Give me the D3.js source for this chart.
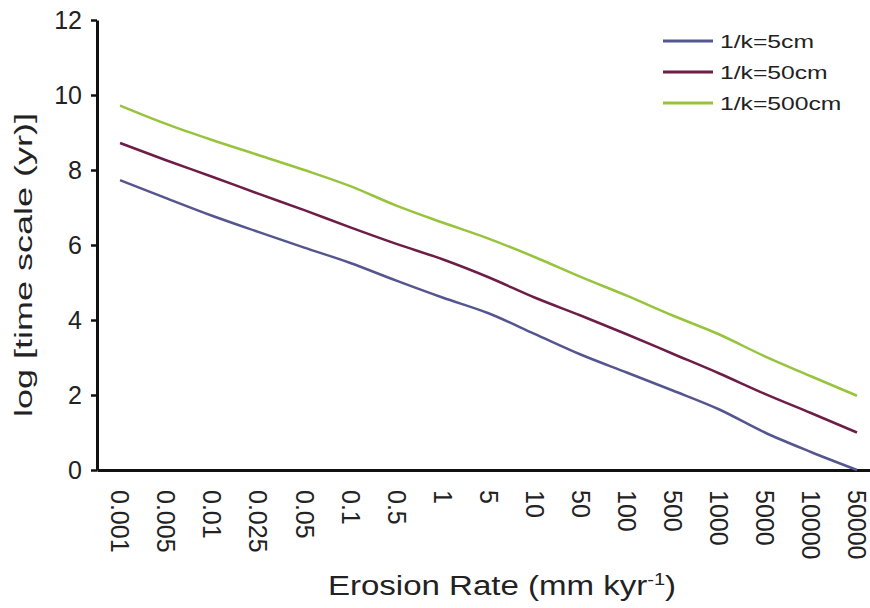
<!DOCTYPE html>
<html>
<head>
<meta charset="utf-8">
<script src="https://cdn.jsdelivr.net/npm/d3@7"></script>
<style>
  body { margin: 0; background: #fff; }
  svg { display: block; font-family: "Liberation Sans", Arial, Helvetica, sans-serif; }
</style>
</head>
<body>
<svg id="chart" width="870" height="608"></svg>
<script>
// erosion rate categories (mm kyr-1)
const rates = ['0.001', '0.005', '0.01', '0.025', '0.05', '0.1', '0.5', '1', '5', '10',
               '50', '100', '500', '1000', '5000', '10000', '50000']
const yTicks = [0, 2, 4, 6, 8, 10, 12]

// log time scale for each 1/k
const k5 = [7.73, 7.25, 6.78, 6.35, 5.93, 5.52, 5.05, 4.6, 4.18, 3.63, 3.08, 2.6, 2.12, 1.62, 1.0, 0.48, 0.0]
const k50 = [8.72, 8.26, 7.82, 7.37, 6.93, 6.47, 6.03, 5.62, 5.14, 4.6, 4.12, 3.62, 3.1, 2.58, 2.03, 1.52, 1.0]
const k500 = [9.72, 9.23, 8.8, 8.4, 8.0, 7.57, 7.05, 6.6, 6.17, 5.68, 5.15, 4.65, 4.12, 3.62, 3.03, 2.5, 1.98]

const seriesNames = ['1/k=5cm', '1/k=50cm', '1/k=500cm']
const seriesValues = [k5, k50, k500]
const colors = ['#55568f', '#6d1d47', '#97c43c']

let svg = d3.select('#chart'),
    plotLeft = 97,
    plotTop = 20,
    plotBottom = 470,
    plotRight = 880

let x = d3.scaleBand().domain(rates).range([plotLeft, plotRight]).padding(0)
let y = d3.scaleLinear().domain([0, 12]).range([plotBottom, plotTop])
let xc = function (c) { return x(c) + x.bandwidth() / 2 }

// x axis
let xAxis = svg.append('g')
    .attr('transform', 'translate(0,' + plotBottom + ')')
    .call(d3.axisBottom(x).tickSize(0))
xAxis.select('.domain').attr('stroke', '#111').attr('stroke-width', 3)
xAxis.selectAll('.tick text')
    .attr('x', 0)
    .attr('y', 0)
    .attr('dy', '0.35em')
    .attr('transform', 'translate(0,20) rotate(90)')
    .style('text-anchor', 'start')
    .style('font-size', '25px')
    .style('font-family', '"Liberation Sans", Arial, sans-serif')
    .attr('fill', '#222')

// y axis
let yAxis = svg.append('g')
    .attr('transform', 'translate(' + plotLeft + ',0)')
    .call(d3.axisLeft(y).tickValues(yTicks).tickSize(6).tickSizeOuter(0).tickPadding(9))
yAxis.select('.domain').attr('stroke', '#111').attr('stroke-width', 3)
yAxis.selectAll('.tick line').attr('stroke', '#111').attr('stroke-width', 2.5)
yAxis.selectAll('.tick text')
    .style('font-size', '25px')
    .style('font-family', '"Liberation Sans", Arial, sans-serif')
    .attr('fill', '#222')

// series lines
let line = d3.line()
    .x(function (d, i) { return xc(rates[i]) })
    .y(function (d) { return y(d) })
    .curve(d3.curveMonotoneX)

svg.selectAll('.series')
    .data(seriesValues)
    .enter().append('path')
    .attr('class', 'series')
    .attr('d', line)
    .attr('fill', 'none')
    .attr('stroke', function (d, i) { return colors[i] })
    .attr('stroke-width', 2.5)

// axis titles
svg.append('text')
    .attr('transform', 'translate(24,265) rotate(-90) scale(1.5,1)')
    .attr('dy', '0.35em')
    .style('text-anchor', 'middle')
    .style('font-size', '24px')
    .attr('fill', '#222')
    .text('log [time scale (yr)]')

let xTitle = svg.append('text')
    .attr('transform', 'translate(502,595) scale(1.18,1)')
    .style('text-anchor', 'middle')
    .style('font-size', '28px')
    .attr('fill', '#222')
xTitle.append('tspan').text('Erosion Rate (mm kyr')
xTitle.append('tspan').attr('dy', '-10').style('font-size', '17px').text('-1')
xTitle.append('tspan').attr('dy', '10').text(')')

// legend
let legend = svg.selectAll('.legend')
    .data(seriesNames)
    .enter().append('g')
    .attr('class', 'legend')
    .attr('transform', function (d, i) { return 'translate(663,' + (41 + i * 31) + ')' })

legend.append('line')
    .attr('x1', 0).attr('x2', 50)
    .attr('stroke', function (d, i) { return colors[i] })
    .attr('stroke-width', 3)

legend.append('text')
    .attr('transform', 'translate(57,0) scale(1.3,1)')
    .attr('dy', '0.38em')
    .style('font-size', '19px')
    .attr('fill', '#222')
    .text(function (d) { return d })
</script>
</body>
</html>
